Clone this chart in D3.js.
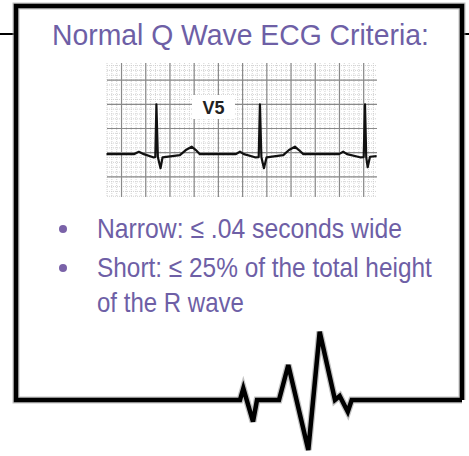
<!DOCTYPE html>
<html>
<head>
<meta charset="utf-8">
<script src="https://cdn.jsdelivr.net/npm/d3@7"></script>
<style>
  html, body { margin: 0; padding: 0; background: #fff; }
  svg { display: block; }
</style>
</head>
<body>
<div id="chart"></div>
<script>
// text content
var titleText = "Normal Q Wave ECG Criteria:";
var leadLabel = "V5";
var bulletLines = [
  {text: "Narrow: \u2264 .04 seconds wide", dot: true},
  {text: "Short: \u2264 25% of the total height", dot: true},
  {text: "of the R wave", dot: false}
];

// ECG strip (seconds, mV)
var stripT = [-0.124, 0.069, 0.102, 0.143, 0.184, 0.261, 0.279, 0.288, 0.300, 0.322, 0.339, 0.482, 0.531, 0.579, 0.614, 0.647,
              0.922, 0.945, 0.978, 1.011, 1.102, 1.133, 1.143, 1.155, 1.176, 1.198, 1.336, 1.383, 1.432, 1.465, 1.501,
              1.777, 1.796, 1.831, 1.862, 1.969, 2.000, 2.011, 2.021, 2.033, 2.052, 2.107];
var stripMv = [-0.03, -0.03, -0.03, 0.02, -0.03, -0.095, -0.09, 1.0, -0.09, -0.32, -0.095, -0.05, 0.055, 0.124, 0.055, -0.03,
               -0.03, -0.03, 0.02, -0.03, -0.095, -0.09, 1.0, -0.09, -0.32, -0.095, -0.05, 0.055, 0.124, 0.055, -0.03,
               -0.03, -0.03, 0.02, -0.03, -0.095, -0.09, 1.0, -0.09, -0.30, -0.083, -0.07];

// decorative pulse along the bottom of the frame (% of width, amplitude)
var pulseX = [0, 50.22, 50.97, 53.14, 54.04, 58.97, 61.05, 65.54, 68.09, 71.52, 72.58, 74.39, 75.27, 100];
var pulseAmp = [0, 0, 11.7, -21.7, 0, 0, 35, -50, 68.3, 0, 4, -11.7, 0, 0];

var width = 469, height = 456;
var svg = d3.select("#chart").append("svg")
  .attr("width", width).attr("height", height);

var purple = "#6e5fa6";
var font = "Arial, 'Liberation Sans', sans-serif";

// squeeze a text horizontally to a target width (the source font is condensed)
function squeeze(sel, w) {
  sel.each(function() {
    var n = this.getComputedTextLength();
    var t = d3.select(this);
    var x0 = +t.attr("x"), y0 = +t.attr("y");
    var target = typeof w === "function" ? w.apply(this, arguments) : w;
    t.attr("x", 0).attr("y", 0)
      .attr("transform", "translate(" + x0 + "," + y0 + ") scale(" + (target / n) + ",1)");
  });
}

// frame
var frame = {left: 16, right: 462, top: 6, bottom: 400};

var px = d3.scaleLinear().domain([0, 100]).range([frame.left, frame.right]);
var py = d3.scaleLinear().domain([-50, 70]).range([450, 330]);

var framePath = d3.line()
  .x(function(d) { return d[0]; })
  .y(function(d) { return d[1]; });

var pulsePts = pulseX.map(function(v, i) { return [px(v), py(pulseAmp[i])]; });
var outline = [[frame.right, frame.bottom], [frame.right, frame.top], [frame.left, frame.top], [frame.left, frame.bottom]]
  .concat(pulsePts.slice(1));

// stubs outside the frame
var stubY = 34;
[[0, frame.left], [frame.right, width]].forEach(function(s) {
  svg.append("line")
    .attr("x1", s[0]).attr("x2", s[1])
    .attr("y1", stubY).attr("y2", stubY)
    .attr("stroke", "#000").attr("stroke-width", 2);
});

svg.append("path")
  .attr("d", framePath(outline))
  .attr("fill", "none")
  .attr("stroke", "#999")
  .attr("stroke-width", 7)
  .attr("stroke-linejoin", "miter")
  .attr("opacity", 0.6);
svg.append("path")
  .attr("d", framePath(outline))
  .attr("fill", "none")
  .attr("stroke", "#000")
  .attr("stroke-width", 4.5)
  .attr("stroke-linejoin", "miter");

// title
svg.append("text")
  .attr("x", 52).attr("y", 45)
  .style("font-family", font)
  .style("font-size", "30px")
  .style("fill", purple)
  .text(titleText)
  .call(squeeze, 377);

// ECG strip
var strip = {x0: 107, x1: 377, y0: 63, y1: 197};
var x = d3.scaleLinear().domain([-0.12, 2.11]).range([strip.x0, strip.x1]);
var y = d3.scaleLinear().domain([-0.915, 1.853]).range([strip.y1, strip.y0]);

var g = svg.append("g");
g.append("rect")
  .attr("x", strip.x0).attr("y", strip.y0)
  .attr("width", strip.x1 - strip.x0).attr("height", strip.y1 - strip.y0)
  .attr("fill", "#fff");

var minorT = d3.range(-0.12, 2.11, 0.04);
var minorV = d3.range(-0.9, 1.86, 0.1);
g.selectAll("line.minorx").data(minorT).enter().append("line")
  .attr("x1", function(d) { return x(d); }).attr("x2", function(d) { return x(d); })
  .attr("y1", strip.y0).attr("y2", strip.y1)
  .attr("stroke", "#c8c8c8").attr("stroke-width", 0.8)
  .attr("stroke-dasharray", "1,1");
g.selectAll("line.minory").data(minorV).enter().append("line")
  .attr("y1", function(d) { return y(d); }).attr("y2", function(d) { return y(d); })
  .attr("x1", strip.x0).attr("x2", strip.x1)
  .attr("stroke", "#c8c8c8").attr("stroke-width", 0.8)
  .attr("stroke-dasharray", "1,1");

var majorT = d3.range(0, 2.01, 0.2);
var majorV = [-0.5, 0, 0.5, 1.0, 1.5];
g.selectAll("line.majorx").data(majorT).enter().append("line")
  .attr("x1", function(d) { return x(d); }).attr("x2", function(d) { return x(d); })
  .attr("y1", strip.y0).attr("y2", strip.y1)
  .attr("stroke", "#8a8a8a").attr("stroke-width", 1.2);
g.selectAll("line.majory").data(majorV).enter().append("line")
  .attr("y1", function(d) { return y(d); }).attr("y2", function(d) { return y(d); })
  .attr("x1", strip.x0).attr("x2", strip.x1)
  .attr("stroke", "#8a8a8a").attr("stroke-width", 1.2);

// lead label
g.append("rect")
  .attr("x", 192).attr("y", 95).attr("width", 43).attr("height", 24)
  .attr("fill", "#fff");
g.append("text")
  .attr("x", 213.5).attr("y", 114)
  .attr("text-anchor", "middle")
  .style("font-family", font)
  .style("font-weight", "bold")
  .style("font-size", "18px")
  .style("fill", "#222")
  .text(leadLabel);

var trace = d3.line()
  .x(function(d, i) { return x(stripT[i]); })
  .y(function(d) { return y(d); });
g.append("path")
  .attr("d", trace(stripMv))
  .attr("fill", "none")
  .attr("stroke", "#111")
  .attr("stroke-width", 2.2)
  .attr("stroke-linejoin", "round");

// bullets
var lineY = [238, 277, 312];
var lineLen = [305, 335, 147];
var bl = svg.append("g");
bl.selectAll("circle").data(bulletLines.filter(function(d) { return d.dot; })).enter().append("circle")
  .attr("cx", 63)
  .attr("cy", function(d, i) { return lineY[i] - 9; })
  .attr("r", 4)
  .attr("fill", "#7a62a8");
bl.selectAll("text").data(bulletLines).enter().append("text")
  .attr("x", 97)
  .attr("y", function(d, i) { return lineY[i]; })
  .style("font-family", font)
  .style("font-size", "28px")
  .style("fill", purple)
  .text(function(d) { return d.text; })
  .call(squeeze, function(d, i) { return lineLen[i]; });
</script>
</body>
</html>
